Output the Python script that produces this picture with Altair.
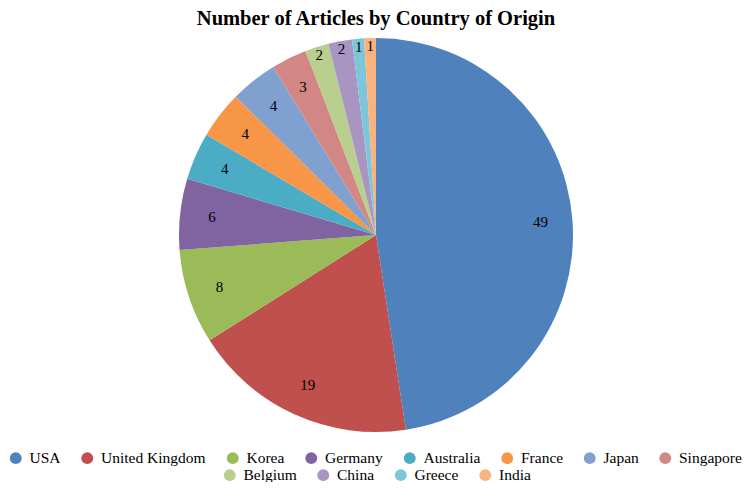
import altair as alt
import pandas as pd

countries = ["USA", "United Kingdom", "Korea", "Germany", "Australia", "France",
             "Japan", "Singapore", "Belgium", "China", "Greece", "India"]
counts = [49, 19, 8, 6, 4, 4, 4, 3, 2, 2, 1, 1]
colors = ["#4F81BD", "#C0504D", "#9BBB59", "#8064A2", "#4BACC6", "#F79646",
          "#80A0D0", "#D38784", "#B8CF8D", "#A895C2", "#7DC6D9", "#F9B47E"]

df = pd.DataFrame({"country": countries, "value": counts, "order": list(range(len(countries)))})

FONT = "Liberation Serif"
row1 = countries[:8]
row2 = countries[8:]

base = alt.Chart(df).transform_window(
    cum="sum(value)", sort=[{"field": "order"}], frame=[None, 0]
).transform_calculate(
    start="datum.cum - datum.value",
    mid="datum.cum - datum.value / 2",
)

theta_scale = alt.Scale(domain=[0, sum(counts)], range=[0, 6.283185307])
CX, CY, R = 368, 205, 197

def legend(cols, lx, ly):
    return alt.Legend(title=None, orient="none", direction="horizontal",
                      columns=cols, legendX=lx, legendY=ly,
                      symbolType="circle", symbolSize=140,
                      labelFont=FONT, labelFontSize=15.5, labelColor="#000",
                      columnPadding=18.5, labelOffset=6, symbolStrokeWidth=0)

arc1 = base.transform_filter(
    alt.FieldOneOfPredicate(field="country", oneOf=row1)
).mark_arc(radius=R).encode(
    theta=alt.Theta("start:Q", scale=theta_scale, stack=None),
    theta2="cum:Q",
    x=alt.value(CX), y=alt.value(CY),
    color=alt.Color("country:N", scale=alt.Scale(domain=row1, range=colors[:8]),
                    legend=legend(8, 0, 420)),
)

arc2 = base.transform_filter(
    alt.FieldOneOfPredicate(field="country", oneOf=row2)
).mark_arc(radius=R).encode(
    theta=alt.Theta("start:Q", scale=theta_scale, stack=None),
    theta2="cum:Q",
    x=alt.value(CX), y=alt.value(CY),
    color=alt.Color("country:N", scale=alt.Scale(domain=row2, range=colors[8:]),
                    legend=legend(4, 214, 437)),
)

txt_big = base.transform_filter("datum.value >= 3").mark_text(
    radius=165, font=FONT, fontSize=15, color="#000"
).encode(
    theta=alt.Theta("mid:Q", scale=theta_scale, stack=None),
    x=alt.value(CX), y=alt.value(CY),
    text="value:Q",
)

txt_small = base.transform_filter("datum.value < 3").mark_text(
    radius=189, font=FONT, fontSize=15, color="#000"
).encode(
    theta=alt.Theta("mid:Q", scale=theta_scale, stack=None),
    x=alt.value(CX), y=alt.value(CY),
    text="value:Q",
)

chart = alt.layer(arc1, arc2, txt_big, txt_small).resolve_scale(
    color="independent"
).properties(
    width=736, height=452,
    padding={"top": 22, "left": 0, "right": 0, "bottom": 0},
    autosize=alt.AutoSizeParams(type="none"),
    title=alt.TitleParams("Number of Articles by Country of Origin", font=FONT,
                          fontSize=20.5, fontWeight="bold", color="#000", offset=1),
).configure_view(stroke=None)

chart.save("out.html", embed_options={"renderer": "svg", "actions": False})
